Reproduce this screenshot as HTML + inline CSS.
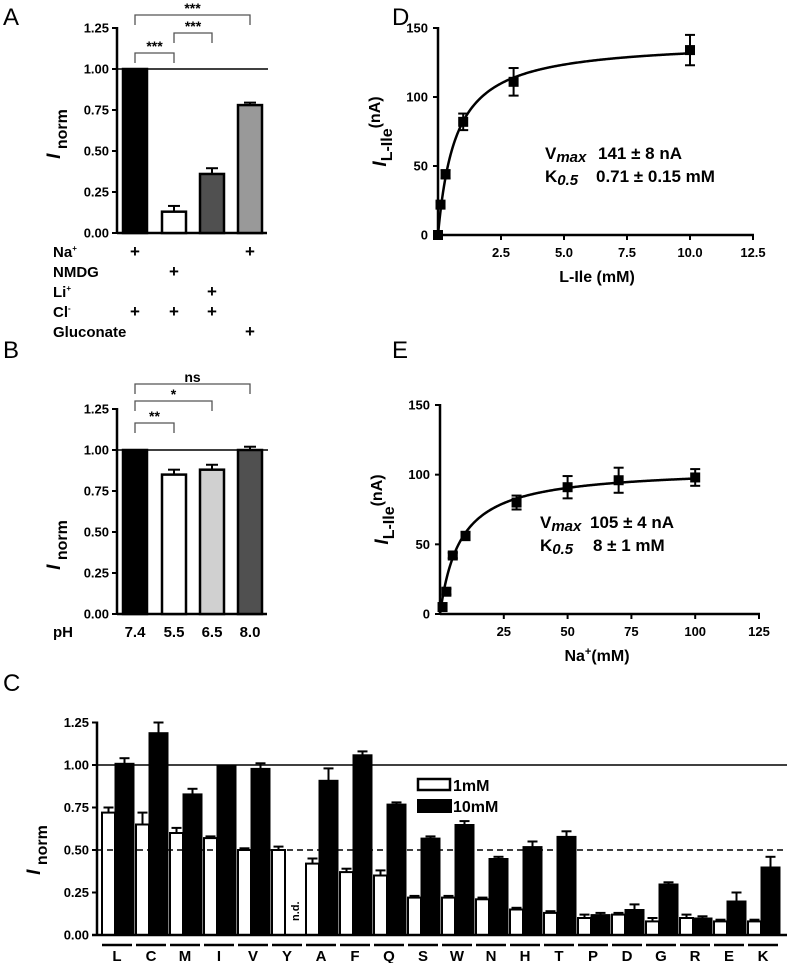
<!DOCTYPE html>
<html><head><meta charset="utf-8"><style>
html,body{margin:0;padding:0;background:#fff;}
svg, svg text, svg tspan{font-family:"Liberation Sans",Arial,sans-serif;}
text{font-weight:bold;fill:#000;}
</style></head><body>
<svg id="fig" width="787" height="963" viewBox="0 0 787 963" font-family="Liberation Sans, sans-serif" font-weight="bold"></svg>
<script>
// Panel A data
const aCats = ['Na+', 'NMDG', 'Li+', 'Gluconate'];
const aVals = [1.0, 0.13, 0.36, 0.78];
const aErrs = [0, 0.035, 0.035, 0.015];
const aFills = ['#000', '#fff', '#505050', '#999'];
// Panel B data
const bCats = ['7.4', '5.5', '6.5', '8.0'];
const bVals = [1.0, 0.85, 0.88, 1.0];
const bErrs = [0, 0.03, 0.03, 0.02];
const bFills = ['#000', '#fff', '#d0d0d0', '#505050'];
const normTicks = ['0.00', '0.25', '0.50', '0.75', '1.00', '1.25'];
// Panel C data
const cCats = ['L','C','M','I','V','Y','A','F','Q','S','W','N','H','T','P','D','G','R','E','K'];
const c1mM = [0.72,0.65,0.60,0.57,0.50,0.50,0.42,0.37,0.35,0.22,0.22,0.21,0.15,0.13,0.10,0.12,0.08,0.10,0.08,0.08];
const c1mMErr = [0.03,0.07,0.03,0.01,0.01,0.02,0.03,0.02,0.03,0.01,0.01,0.01,0.01,0.01,0.02,0.01,0.02,0.02,0.01,0.01];
const c10mM = [1.01,1.19,0.83,1.00,0.98,null,0.91,1.06,0.77,0.57,0.65,0.45,0.52,0.58,0.12,0.15,0.30,0.10,0.20,0.40];
const c10mMErr = [0.03,0.06,0.03,0,0.03,null,0.07,0.02,0.01,0.01,0.02,0.01,0.03,0.03,0.01,0.03,0.01,0.01,0.05,0.06];
// Panel D data
const dX = [0, 0.1, 0.3, 1, 3, 10];
const dY = [0, 22, 44, 82, 111, 134];
const dErr = [0, 2, 3, 6, 10, 11];
const dFit = [141, 0.71];
const dXTicks = ['2.5','5.0','7.5','10.0','12.5'];
// Panel E data
const eX = [1, 2.5, 5, 10, 30, 50, 70, 100];
const eY = [5, 16, 42, 56, 80, 91, 96, 98];
const eErr = [0, 2, 2, 3, 5, 8, 9, 6];
const eFit = [105, 8];
const eXTicks = ['25','50','75','100','125'];
const curYTicks = ['0','50','100','150'];

const svg = document.getElementById('fig');
const NS = 'http://www.w3.org/2000/svg';
function el(tag, attrs, parent) {
  const e = document.createElementNS(NS, tag);
  for (const k in attrs) e.setAttribute(k, attrs[k]);
  (parent || svg).appendChild(e);
  return e;
}
function txt(x, y, s, size, anchor, parent) {
  const t = el('text', {x: x, y: y, 'font-size': size, 'text-anchor': anchor || 'start', 'font-family': 'Liberation Sans, sans-serif', 'font-weight': 'bold'}, parent);
  t.textContent = s;
  return t;
}
function line(x1, y1, x2, y2, w, parent, dash) {
  const l = el('line', {x1: x1, y1: y1, x2: x2, y2: y2, stroke: '#000', 'stroke-width': w || 2}, parent);
  if (dash) l.setAttribute('stroke-dasharray', dash);
  return l;
}
function errBar(x, yTop, yVal, hw, parent) {
  line(x, yVal, x, yTop, 2, parent);
  line(x - hw, yTop, x + hw, yTop, 2, parent);
}
function panelLetter(x, y, s) {
  const t = el('text', {x: x, y: y, 'font-size': 24, 'font-family': 'Liberation Sans, sans-serif', style: 'font-weight:normal'});
  t.textContent = s;
  
  
}
function yTitleNorm(x, y, parent) {
  const t = el('text', {transform: 'translate(' + x + ',' + y + ') rotate(-90)', 'font-size': 16, 'text-anchor': 'middle', 'font-family': 'Liberation Sans, sans-serif', 'font-weight': 'bold'}, parent);
  const a = el('tspan', {'font-style': 'italic', 'font-size': 19}, t); a.textContent = 'I';
  const b = el('tspan', {dy: 7, 'font-size': 16}, t); b.textContent = ' norm';
  
  
}
function bracket(x1, x2, y, label, parent) {
  const g = el('g', {}, parent);
  
  
  el('path', {d: 'M' + x1 + ',' + (y + 10) + 'V' + y + 'H' + x2 + 'V' + (y + 10), fill: 'none', stroke: '#555', 'stroke-width': 1.3}, g);
  txt((x1 + x2) / 2, y - 2, label, 14, 'middle', g);
}

// ---------- Bar panels A & B ----------
function barPanel(name, y0, vals, errs, fills, axX, xEnd) {
  const g = el('g', {});
  
  
  const ppu = 164;
  const ys = v => y0 - v * ppu;
  const centers = [135, 174, 212, 250];
  normTicks.forEach(t => {
    const yy = ys(parseFloat(t));
    line(axX - 5, yy, axX, yy, 2, g);
    txt(axX - 8, yy + 4.5, t, 13, 'end', g);
  });
  line(axX, ys(1.25) - 1, axX, y0 + 1, 2.5, g);
  line(axX, y0, xEnd, y0, 2.5, g);
  line(axX, ys(1), xEnd + 1, ys(1), 1.5, g);
  vals.forEach((v, i) => {
    const r = el('rect', {x: centers[i] - 12, y: ys(v), width: 24, height: y0 - ys(v), fill: fills[i], stroke: '#000', 'stroke-width': 2.5}, g);
    
    
    if (errs[i] > 0) errBar(centers[i], ys(v + errs[i]), ys(v), 6, g);
  });
  return {g: g, centers: centers};
}
panelLetter(3, 25, 'A');
const A = barPanel('panel-a-chart', 233, aVals, aErrs, aFills, 117, 267);
yTitleNorm(60, 134, A.g);
bracket(135, 250, 15, '***', A.g);
bracket(174, 212, 33, '***', A.g);
bracket(135, 174, 53, '***', A.g);
const condRows = [['Na', [1,0,0,1], '+'], ['NMDG', [0,1,0,0], ''], ['Li', [0,0,1,0], '+'], ['Cl', [1,1,1,0], '-'], ['Gluconate', [0,0,0,1], '']];
condRows.forEach((r, ri) => {
  const yy = 257 + ri * 20;
  const t = txt(53, yy, r[0], 15, 'start', A.g);
  if (r[2]) { const s = el('tspan', {dy: -6, 'font-size': 8}, t); s.textContent = r[2]; }
  
  
  r[1].forEach((on, ci) => { if (on) txt(A.centers[ci], yy, '+', 17, 'middle', A.g); });
});

panelLetter(3, 358, 'B');
const B = barPanel('panel-b-chart', 614, bVals, bErrs, bFills, 117, 267);
yTitleNorm(60, 545, B.g);
bracket(135, 250, 384, 'ns', B.g);
bracket(135, 212, 401, '*', B.g);
bracket(135, 174, 423, '**', B.g);
txt(53, 637, 'pH', 15, 'start', B.g);
bCats.forEach((c, i) => txt(B.centers[i], 637, c, 15, 'middle', B.g));

// ---------- Panel C ----------
(function () {
  panelLetter(3, 691, 'C');
  const g = el('g', {});
  
  
  const axX = 97, y0 = 935, ppu = 170, gx0 = 102, gw = 34;
  const ys = v => y0 - v * ppu;
  normTicks.forEach(t => {
    const yy = ys(parseFloat(t));
    line(axX - 5, yy, axX, yy, 2, g);
    txt(axX - 8, yy + 4.5, t, 13, 'end', g);
  });
  yTitleNorm(40, 850, g);
  cCats.forEach((c, i) => {
    const x = gx0 + i * gw;
    const w = el('rect', {x: x, y: ys(c1mM[i]), width: 13, height: y0 - ys(c1mM[i]), fill: '#fff', stroke: '#000', 'stroke-width': 2}, g);
    
    
    errBar(x + 6.5, ys(c1mM[i] + c1mMErr[i]), ys(c1mM[i]), 5, g);
    if (c10mM[i] !== null) {
      const b = el('rect', {x: x + 13, y: ys(c10mM[i]), width: 19, height: y0 - ys(c10mM[i]), fill: '#000', stroke: '#000', 'stroke-width': 1}, g);
      
      
      if (c10mMErr[i] > 0) errBar(x + 22.5, ys(c10mM[i] + c10mMErr[i]), ys(c10mM[i]), 5, g);
    } else {
      const t = el('text', {transform: 'translate(' + (x + 27) + ',' + (ys(0.14)) + ') rotate(-90)', 'font-size': 11, 'text-anchor': 'middle', 'font-family': 'Liberation Sans, sans-serif', 'font-weight': 'bold'}, g);
      t.textContent = 'n.d.';
    }
    line(x, 945, x + gw - 4, 945, 2.5, g);
    txt(x + 15, 961, c, 15, 'middle', g);
  });
  line(axX, ys(1), 787, ys(1), 1.5, g);
  line(axX, ys(0.5), 787, ys(0.5), 1.5, g, '6,4');
  line(axX, ys(1.25) - 1, axX, y0 + 1, 2.5, g);
  line(axX - 5, y0, 787, y0, 2.5, g);
  const lg = el('g', {}, g);
  
  
  el('rect', {x: 418, y: 779, width: 32, height: 11, fill: '#fff', stroke: '#000', 'stroke-width': 2.5}, lg);
  txt(453, 791, '1mM', 16, 'start', lg);
  el('rect', {x: 417, y: 799, width: 35, height: 14, fill: '#000'}, lg);
  txt(453, 812, '10mM', 16, 'start', lg);
})();

// ---------- Curve panels ----------
function curvePanel(name, axX, y0, xPPU, yPPU, xMax, xs, ysv, errs, fit, xTicks, xTitleParts, textY, statLines) {
  const g = el('g', {});
  
  
  const sx = v => axX + v * xPPU;
  const sy = v => y0 - v * yPPU;
  curYTicks.forEach(t => {
    const yy = sy(parseFloat(t));
    line(axX - 5, yy, axX, yy, 2, g);
    txt(axX - 10, yy + 4.5, t, 13, 'end', g);
  });
  xTicks.forEach(t => {
    const xx = sx(parseFloat(t));
    line(xx, y0, xx, y0 + 5, 2, g);
    txt(xx, y0 + 22, t, 13, 'middle', g);
  });
  line(axX, sy(150) - 1, axX, y0 + 1, 2.5, g);
  line(axX, y0, sx(xMax) + 1, y0, 2.5, g);
  let d = '';
  const xLast = xs[xs.length - 1];
  for (let k = 0; k <= 300; k++) {
    const x = xLast * k / 300;
    const y = fit[0] * x / (fit[1] + x);
    d += (k ? 'L' : 'M') + sx(x).toFixed(2) + ',' + sy(y).toFixed(2);
  }
  const p = el('path', {d: d, fill: 'none', stroke: '#000', 'stroke-width': 2.5}, g);
  
  
  xs.forEach((x, i) => {
    if (errs[i] > 0) {
      line(sx(x), sy(ysv[i] - errs[i]), sx(x), sy(ysv[i] + errs[i]), 2, g);
      line(sx(x) - 5, sy(ysv[i] + errs[i]), sx(x) + 5, sy(ysv[i] + errs[i]), 2, g);
      line(sx(x) - 5, sy(ysv[i] - errs[i]), sx(x) + 5, sy(ysv[i] - errs[i]), 2, g);
    }
    const r = el('rect', {x: sx(x) - 5, y: sy(ysv[i]) - 5, width: 10, height: 10, fill: '#000'}, g);
    
    
  });
  const yt = el('text', {transform: 'translate(' + (axX - 52) + ',' + (sy(75)) + ') rotate(-90)', 'font-size': 16, 'text-anchor': 'middle', 'font-family': 'Liberation Sans, sans-serif', 'font-weight': 'bold'}, g);
  const a = el('tspan', {'font-style': 'italic', 'font-size': 19}, yt); a.textContent = 'I';
  const b = el('tspan', {dy: 6}, yt); b.textContent = 'L-Ile';
  const c = el('tspan', {dy: -12}, yt); c.textContent = '(nA)';
  
  
  const xt = el('text', {x: 597, y: y0 + 47, 'font-size': 16, 'text-anchor': 'middle', 'font-family': 'Liberation Sans, sans-serif', 'font-weight': 'bold'}, g);
  
  
  xTitleParts.forEach(pt => { const s = el('tspan', pt[1], xt); s.textContent = pt[0]; });
  statLines.forEach((sl, i) => {
    const t = el('text', {x: sl.x, y: textY + i * 23, 'font-size': 17, 'font-family': 'Liberation Sans, sans-serif', 'font-weight': 'bold'}, g);
    const s1 = el('tspan', {}, t); s1.textContent = sl.a;
    const s2 = el('tspan', {'font-style': 'italic', 'font-size': 15, dy: 3}, t); s2.textContent = sl.sub;
    const s3 = el('tspan', {x: sl.vx, dy: -3}, t); s3.textContent = sl.v;
    
    
  });
}
panelLetter(392, 25, 'D');
curvePanel('panel-d-chart', 438, 235, 25.2, 207 / 150, 12.5, dX, dY, dErr, dFit, dXTicks,
  [['L-Ile (mM)', {}]], 159,
  [{x: 545, a: 'V', sub: 'max', vx: 598, v: '141 \u00b1 8 nA'}, {x: 545, a: 'K', sub: '0.5', vx: 596, v: '0.71 \u00b1 0.15 mM'}]);
panelLetter(392, 358, 'E');
curvePanel('panel-e-chart', 440, 614, 319 / 125, 209 / 150, 125, eX, eY, eErr, eFit, eXTicks,
  [['Na', {}], ['+', {dy: -6, 'font-size': 11}], ['(mM)', {dy: 6}]], 528,
  [{x: 540, a: 'V', sub: 'max', vx: 590, v: '105 \u00b1 4 nA'}, {x: 540, a: 'K', sub: '0.5', vx: 593, v: '8 \u00b1 1 mM'}]);
</script>
</body></html>
